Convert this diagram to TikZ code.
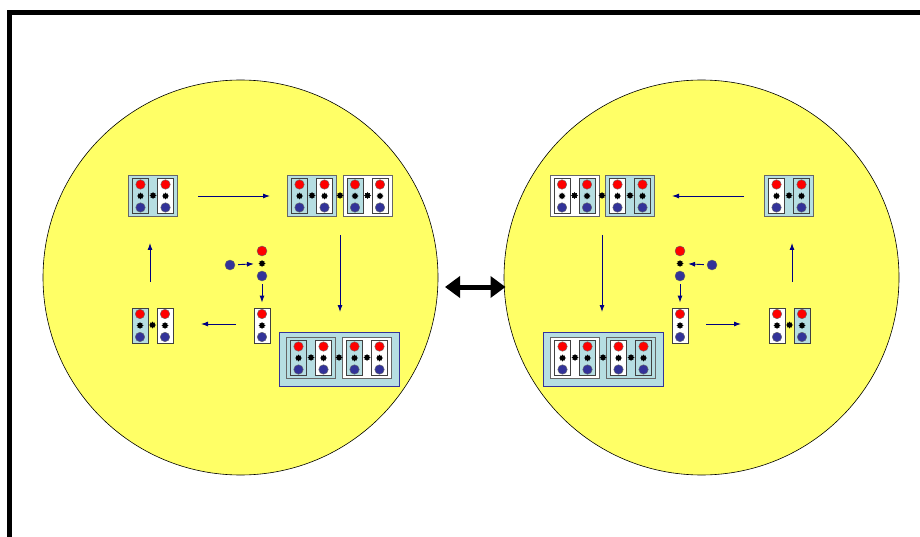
\documentclass[tikz,border=0pt]{standalone}
\usetikzlibrary{arrows.meta,shapes.geometric}
\definecolor{yel}{RGB}{255,255,102}
\definecolor{lb}{RGB}{182,222,226}
\definecolor{bball}{RGB}{51,51,153}
\definecolor{navy}{RGB}{0,0,128}
\tikzset{
  unitbox/.style={draw=black!75, line width=0.9pt, minimum width=16pt, minimum height=35pt, inner sep=0pt},
  pairbox/.style={draw=black!60, line width=0.8pt, minimum width=49pt, minimum height=41pt, inner sep=0pt},
  bigbox/.style={draw=bball, line width=0.9pt, fill=lb, minimum width=120pt, minimum height=54pt, inner sep=0pt},
  redball/.style={circle, fill=red, draw=black!60, line width=0.4pt, minimum size=9.5pt, inner sep=0pt},
  blueball/.style={circle, fill=bball, draw=black!60, line width=0.4pt, minimum size=9.5pt, inner sep=0pt},
  bond/.style={star, star points=8, star point ratio=1.5, fill=black, draw=none, minimum size=7pt, inner sep=0pt},
  flow/.style={draw=navy, line width=0.9pt, -{Latex[length=7pt,width=5pt]}},
  world/.style={circle, draw=black, line width=0.6pt, fill=yel, minimum size=395pt, inner sep=0pt},
}
% unit: name, x, y, fill
\newcommand\unitat[4]{%
  \node[unitbox, fill=#4] (#1) at (#2,#3) {};
  \node[redball] (#1r) at (#2,#3-11.5) {};
  \node[bond] (#1s) at (#2,#3) {};
  \node[blueball] (#1b) at (#2,#3+11.5) {};
}
% pair: name, x, y, boxfill, leftfill, rightfill
\newcommand\pairat[6]{%
  \node[pairbox, fill=#4] (#1) at (#2,#3) {};
  \unitat{#1l}{#2-12.5}{#3}{#5}
  \unitat{#1r}{#2+12.5}{#3}{#6}
  \node[bond] (#1k) at (#2,#3-0.5) {};
}
\newcommand\halfscene[1]{%
  \node[world] (#1circ) at (240.5,277.5) {};
  % top-left pair
  \pairat{#1p1}{153}{196}{lb}{lb}{white}
  % top-right two pairs
  \pairat{#1pA}{312}{196}{lb}{lb}{white}
  \pairat{#1pB}{367.5}{196}{white}{lb}{white}
  \node[bond] (#1kAB) at (340,195.5) {};
  % middle reaction
  \node[blueball, minimum size=10pt] (#1lone) at (230,265) {};
  \node[redball, minimum size=10pt] (#1mr) at (262,251) {};
  \node[bond] (#1mk) at (262,263.5) {};
  \node[blueball, minimum size=10pt] (#1mb) at (262,276) {};
  % single unit
  \unitat{#1single}{262}{325.5}{white}
  % bottom-left pair (no box)
  \unitat{#1bl1}{140}{325.5}{lb}
  \unitat{#1bl2}{165}{325.5}{white}
  \node[bond] (#1blk) at (152.5,325) {};
  % big box
  \node[bigbox] (#1big) at (339,359) {};
  \pairat{#1pC}{311}{358}{lb}{lb}{white}
  \pairat{#1pD}{367}{358}{white}{lb}{white}
  \node[bond] (#1kCD) at (339,357.5) {};
  % arrows
  \coordinate (#1a1s) at (198,196);
  \coordinate (#1a1e) at (270,196);
  \draw[flow] (#1a1s) -- (#1a1e);
  \coordinate (#1a2s) at (340,235);
  \coordinate (#1a2e) at (340,312);
  \draw[flow] (#1a2s) -- (#1a2e);
  \coordinate (#1a3s) at (236,324);
  \coordinate (#1a3e) at (201,324);
  \draw[flow] (#1a3s) -- (#1a3e);
  \coordinate (#1a4s) at (150,282);
  \coordinate (#1a4e) at (150,243);
  \draw[flow] (#1a4s) -- (#1a4e);
  \draw[flow, shorten <=3pt, shorten >=4.5pt] (#1lone) -- (#1mk);
  \draw[flow, shorten <=3pt, shorten >=5pt] (#1mb) -- (#1single.north);
}
\begin{document}
\begin{tikzpicture}[x=1pt,y=-1pt]
\useasboundingbox (0,0) rectangle (920,537);
\clip (0,0) rectangle (920,537);
\fill[white] (0,0) rectangle (920,537);
\coordinate (fbl) at (9.5,600);
\coordinate (ftl) at (9.5,12.7);
\coordinate (ftr) at (1000,12.7);
\draw[line width=5.6pt] (fbl) -- (ftl) -- (ftr);
\begin{scope}
  \halfscene{L}
\end{scope}
\begin{scope}[xshift=942pt, xscale=-1]
  \halfscene{R}
\end{scope}
\coordinate (dl) at (445,287);
\coordinate (dr) at (505.5,287);
\draw[line width=5pt, {Triangle[width=21pt,length=15pt]}-{Triangle[width=21pt,length=15pt]}] (dl) -- (dr);
\end{tikzpicture}
\end{document}
